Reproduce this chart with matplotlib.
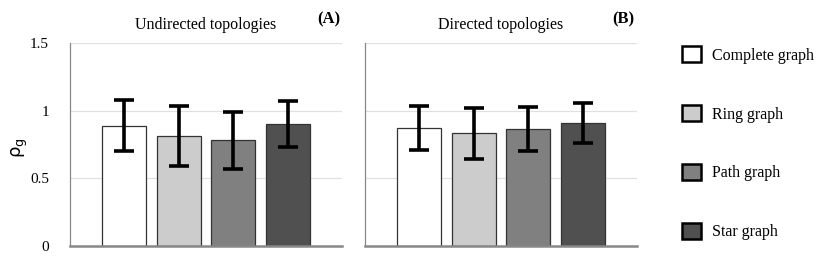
import matplotlib
matplotlib.use("Agg")
import matplotlib.pyplot as plt
from matplotlib.patches import Patch

categories = ["Complete graph", "Ring graph", "Path graph", "Star graph"]
colors = ["#ffffff", "#cccccc", "#808080", "#505050"]
undirected_mean = [0.89, 0.815, 0.782, 0.905]
undirected_err = [0.19, 0.22, 0.21, 0.17]
directed_mean = [0.871, 0.834, 0.866, 0.908]
directed_err = [0.162, 0.187, 0.162, 0.147]
yticks = [0, 0.5, 1, 1.5]
yticklabels = ["0", "0.5", "1", "1.5"]

plt.rcParams['font.family'] = ['Liberation Serif', 'DejaVu Serif']

fig = plt.figure(figsize=(8.17, 2.62), dpi=100)
W, H = 817, 262
axA = fig.add_axes([70 / W, 1 - 246 / H, 272 / W, (246 - 43.3) / H])
axB = fig.add_axes([365 / W, 1 - 246 / H, 272 / W, (246 - 43.3) / H])

x = [1, 2, 3, 4]
for ax, means, errs, title, tag in [
        (axA, undirected_mean, undirected_err, "Undirected topologies", "(A)"),
        (axB, directed_mean, directed_err, "Directed topologies", "(B)")]:
    ax.bar(x, means, width=0.81, color=colors, edgecolor="#333333", linewidth=0.9, zorder=2)
    ax.errorbar(x, means, yerr=errs, fmt="none", ecolor="black", elinewidth=2.6,
                capsize=7, capthick=2.6, zorder=3)
    ax.set_xlim(0, 5)
    ax.set_ylim(0, 1.5)
    ax.set_yticks(yticks)
    ax.yaxis.grid(True, color="#e0e0e0", linewidth=0.9, zorder=0)
    ax.set_axisbelow(True)
    ax.set_xticks([])
    for s in ["top", "right"]:
        ax.spines[s].set_visible(False)
    ax.spines["left"].set_color("#888888")
    ax.spines["left"].set_linewidth(0.9)
    ax.spines["bottom"].set_color("#888888")
    ax.spines["bottom"].set_linewidth(1.8)
    ax.tick_params(axis="y", length=0, labelsize=11, pad=15)
    ax.text(0.5, 1.05, title, transform=ax.transAxes, ha="center", va="bottom", fontsize=11.5)
    ax.text(0.95, 1.08, tag, transform=ax.transAxes, ha="center", va="bottom",
            fontsize=12, fontweight="bold")

axA.set_yticklabels(yticklabels)
axB.set_yticklabels([])
fig.text(20 / W, 1 - 148 / H, r"$\mathregular{\rho_g}$", fontsize=13, family="DejaVu Sans",
         rotation=90, ha="center", va="center")

handles = [Patch(facecolor=c, edgecolor="black", linewidth=1.8) for c in colors]
fig.legend(handles, categories, loc="upper left", bbox_to_anchor=(668 / W, 1 - 32 / H),
           frameon=False, fontsize=11.5, handlelength=1.15, handleheight=1.15,
           labelspacing=2.6, handletextpad=0.7)

fig.savefig("out.png", dpi=100)
